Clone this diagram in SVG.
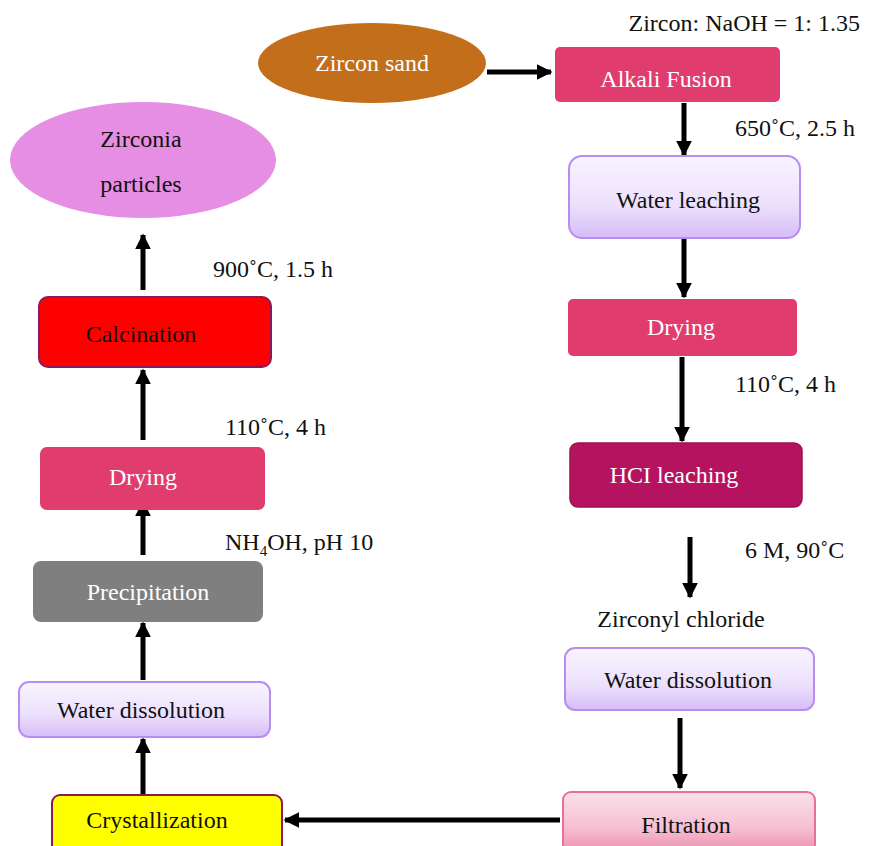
<svg xmlns="http://www.w3.org/2000/svg" width="870" height="846" viewBox="0 0 870 846">
<defs>
<linearGradient id="lav" x1="0" y1="0" x2="0" y2="1"><stop offset="0" stop-color="#f8f4ff"/><stop offset="0.6" stop-color="#ece0fc"/><stop offset="1" stop-color="#d6bcf8"/></linearGradient>
<linearGradient id="pink" x1="0" y1="0" x2="0" y2="1"><stop offset="0" stop-color="#fbe0ea"/><stop offset="0.6" stop-color="#f6bfd2"/><stop offset="1" stop-color="#ee8fb0"/></linearGradient>
<marker id="ah" viewBox="0 0 10 10" refX="9" refY="5" markerWidth="3.2" markerHeight="3.2" orient="auto" markerUnits="strokeWidth"><path d="M0,0 L10,5 L0,10 z" fill="#000"/></marker>
</defs>
<style>
text{font-family:"Liberation Serif","Times New Roman",serif;font-size:24px;fill:#111}
.c{text-anchor:middle}
.w{fill:#fff}
.lav{fill:url(#lav);stroke:#b98cf2;stroke-width:2}
.rose{fill:#e03c6e}
.conn line{stroke:#000;stroke-width:5;marker-end:url(#ah)}
</style>
<rect width="870" height="846" fill="#fff"/>
<g class="conn">
<line x1="487" y1="72" x2="551" y2="72"/>
<line x1="684" y1="103" x2="684" y2="155"/>
<line x1="684" y1="239" x2="684" y2="297"/>
<line x1="682" y1="357" x2="682" y2="441"/>
<line x1="690" y1="537" x2="690" y2="597"/>
<line x1="680" y1="718" x2="680" y2="788"/>
<line x1="560" y1="820" x2="285" y2="820"/>
<line x1="143" y1="795" x2="143" y2="739"/>
<line x1="143" y1="680" x2="143" y2="623"/>
<line x1="143" y1="555" x2="143" y2="502"/>
<line x1="143" y1="440" x2="143" y2="370"/>
<line x1="143" y1="290" x2="143" y2="235"/>
</g>
<g id="zircon-sand"><ellipse cx="372" cy="63" rx="114" ry="40" fill="#c26e1b"/><text class="c w" x="372" y="71">Zircon sand</text></g>
<text x="860" y="31" text-anchor="end">Zircon: NaOH = 1: 1.35</text>
<g id="alkali-fusion"><rect x="555" y="47" width="225" height="55" rx="5" class="rose"/><text class="c w" x="666" y="87">Alkali Fusion</text></g>
<text x="735" y="136">650˚C, 2.5 h</text>
<g id="water-leaching"><rect x="569" y="156" width="231" height="82" rx="13" class="lav"/><text class="c" x="688" y="208">Water leaching</text></g>
<g id="drying-r"><rect x="568" y="299" width="229" height="57" rx="5" class="rose"/><text class="c w" x="681" y="335">Drying</text></g>
<text x="735" y="392">110˚C, 4 h</text>
<g id="hcl-leaching"><rect x="570" y="443" width="232" height="64" rx="8" fill="#b5135f" stroke="#9a1050" stroke-width="1.5"/><text class="c w" x="674" y="483">HCI leaching</text></g>
<text x="745" y="558">6 M, 90˚C</text>
<text class="c" x="681" y="627">Zirconyl chloride</text>
<g id="water-dissolution-r"><rect x="565" y="648" width="249" height="62" rx="10" class="lav"/><text class="c" x="688" y="688">Water dissolution</text></g>
<g id="filtration"><rect x="563" y="792" width="252" height="60" rx="8" fill="url(#pink)" stroke="#e8709a" stroke-width="2"/><text class="c" x="686" y="833">Filtration</text></g>
<g id="crystallization"><rect x="52" y="795" width="230" height="58" rx="8" fill="#ffff00" stroke="#8b1a5a" stroke-width="2"/><text class="c" x="157" y="828">Crystallization</text></g>
<g id="water-dissolution-l"><rect x="19" y="682" width="251" height="55" rx="10" class="lav"/><text class="c" x="141" y="718">Water dissolution</text></g>
<g id="precipitation"><rect x="33" y="561" width="230" height="61" rx="8" fill="#7f7f7f"/><text class="c w" x="148" y="600">Precipitation</text></g>
<text x="225" y="550">NH<tspan font-size="15" dy="6">4</tspan><tspan dy="-6">OH, pH 10</tspan></text>
<g id="drying-l"><rect x="40" y="447" width="225" height="63" rx="7" class="rose"/><text class="c w" x="143" y="485">Drying</text></g>
<text x="225" y="435">110˚C, 4 h</text>
<g id="calcination"><rect x="39" y="297" width="232" height="70" rx="9" fill="#ff0000" stroke="#8b1a5a" stroke-width="2"/><text class="c" x="141" y="342">Calcination</text></g>
<text x="213" y="277">900˚C, 1.5 h</text>
<g id="zirconia-particles"><ellipse cx="143" cy="160" rx="133" ry="58" fill="#e58ee3"/><text class="c" x="141" y="147">Zirconia</text><text class="c" x="141" y="192">particles</text></g>
</svg>
